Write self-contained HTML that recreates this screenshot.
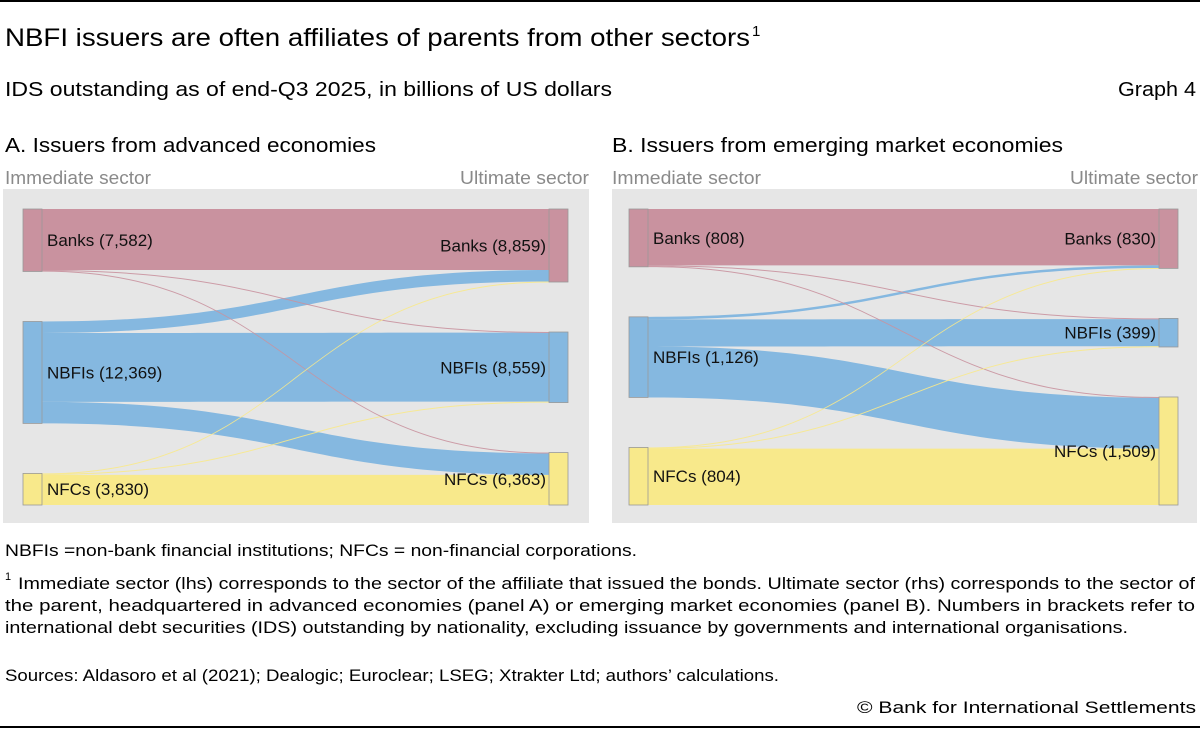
<!DOCTYPE html>
<html><head><meta charset="utf-8"><style>
body{margin:0;background:#fff;}
svg{display:block;font-family:"Liberation Sans",sans-serif;}
</style></head><body>
<svg id="chart" width="1200" height="729" viewBox="0 0 1200 729">
<line x1="0" y1="1" x2="1200" y2="1" stroke="#000" stroke-width="2"/>
<text x="5" y="46" font-size="25" fill="#000" textLength="745" lengthAdjust="spacingAndGlyphs">NBFI issuers are often affiliates of parents from other sectors</text>
<text x="752" y="36" font-size="15">1</text>
<text x="5" y="96" font-size="20" textLength="607" lengthAdjust="spacingAndGlyphs">IDS outstanding as of end-Q3 2025, in billions of US dollars</text>
<text x="1118" y="96" font-size="20" textLength="78" lengthAdjust="spacingAndGlyphs">Graph 4</text>
<text x="5" y="152" font-size="20" textLength="371" lengthAdjust="spacingAndGlyphs">A. Issuers from advanced economies</text>
<text x="612" y="152" font-size="20" textLength="451" lengthAdjust="spacingAndGlyphs">B. Issuers from emerging market economies</text>
<text x="5" y="184" font-size="18" fill="#8a8a8a" textLength="146" lengthAdjust="spacingAndGlyphs">Immediate sector</text>
<text x="460" y="184" font-size="18" fill="#8a8a8a" textLength="129" lengthAdjust="spacingAndGlyphs">Ultimate sector</text>
<text x="612" y="184" font-size="18" fill="#8a8a8a" textLength="149" lengthAdjust="spacingAndGlyphs">Immediate sector</text>
<text x="1070" y="184" font-size="18" fill="#8a8a8a" textLength="128" lengthAdjust="spacingAndGlyphs">Ultimate sector</text>
<rect x="3" y="189" width="586" height="334" fill="#e6e6e6"/>
<rect x="612" y="189" width="585" height="334" fill="#e6e6e6"/>
<g id="pa"></g><g id="pb"></g>
<text x="5" y="556" font-size="17" textLength="632" lengthAdjust="spacingAndGlyphs">NBFIs =non-bank financial institutions; NFCs = non-financial corporations.</text>
<text x="5" y="580" font-size="11">1</text>
<text x="18" y="589" font-size="17" textLength="1177" lengthAdjust="spacingAndGlyphs">Immediate sector (lhs) corresponds to the sector of the affiliate that issued the bonds. Ultimate sector (rhs) corresponds to the sector of</text>
<text x="5" y="611" font-size="17" textLength="1190" lengthAdjust="spacingAndGlyphs">the parent, headquartered in advanced economies (panel A) or emerging market economies (panel B). Numbers in brackets refer to</text>
<text x="5" y="633" font-size="17" textLength="1123" lengthAdjust="spacingAndGlyphs">international debt securities (IDS) outstanding by nationality, excluding issuance by governments and international organisations.</text>
<text x="5" y="681" font-size="17" textLength="774" lengthAdjust="spacingAndGlyphs">Sources: Aldasoro et al (2021); Dealogic; Euroclear; LSEG; Xtrakter Ltd; authors’ calculations.</text>
<text x="857" y="713" font-size="17" textLength="339" lengthAdjust="spacingAndGlyphs">© Bank for International Settlements</text>
<line x1="0" y1="727" x2="1200" y2="727" stroke="#000" stroke-width="2"/>
</svg>
<script>
const sectors = ["Banks","NBFIs","NFCs"];
const colors = ["#c9929f","#85b8e0","#f8e98b"];
const nodeColors = ["#c9929f","#85b8e0","#f8e98b"];
// flows[source][target]
const flowsA = [[7402,80,100],[1397,8359,2613],[60,120,3650]];
const flowsB = [[788,10,10],[36,379,711],[6,10,788]];
const leftTotalsA = [7582,12369,3830];
const rightTotalsA = [8859,8559,6363];
const leftTotalsB = [808,1126,804];
const rightTotalsB = [830,399,1509];
const NS="http://www.w3.org/2000/svg";
function mk(tag,attrs,parent){const e=document.createElementNS(NS,tag);for(const k in attrs)e.setAttribute(k,attrs[k]);parent.appendChild(e);return e;}
function fmt(v){return v.toLocaleString("en-US");}
function drawPanel(g,flows,lt,rt,x0,x1,nw,prefix){
  const top=209,bottom=505,gap=50;
  const total=lt.reduce((a,b)=>a+b,0);
  const k=(bottom-top-2*gap)/total;
  const ly=[],ry=[];let y=top;
  lt.forEach(v=>{ly.push(y);y+=v*k+gap;});
  const rtot=rt.reduce((a,b)=>a+b,0);const k2=(bottom-top-2*gap)/rtot;
  y=top;rt.forEach(v=>{ry.push(y);y+=v*k2+gap;});
  const lo=ly.slice();
  const xa=x0+nw,xb=x1;
  const paths=[];
  for(let s=0;s<3;s++)for(let t=0;t<3;t++){
    const v=flows[s][t];const h=v*k;
    paths.push({s,t,y0:lo[s],y1:0,h});
    lo[s]+=h;
  }
  const ro2=ry.slice();
  for(let t=0;t<3;t++)for(let s=0;s<3;s++){const p=paths.find(q=>q.s===s&&q.t===t);p.y1=ro2[t];ro2[t]+=p.h;}
  paths.sort((a,b)=>b.h-a.h);
  paths.forEach(p=>{
    const xm=(xa+xb)/2;const h=Math.max(p.h,1);
    const d=`M${xa},${p.y0}C${xm},${p.y0} ${xm},${p.y1} ${xb},${p.y1}L${xb},${p.y1+h}C${xm},${p.y1+h} ${xm},${p.y0+h} ${xa},${p.y0+h}Z`;
    const e=mk("path",{d,fill:colors[p.s],"fill-opacity":p.h<2?0.9:1},g);
    
    
  });
  for(let i=0;i<3;i++){
    const r=mk("rect",{x:x0,y:ly[i],width:nw,height:lt[i]*k,fill:nodeColors[i],stroke:"#999","stroke-width":0.8},g);
    
    
    const r2=mk("rect",{x:x1,y:ry[i],width:nw,height:rt[i]*k2,fill:nodeColors[i],stroke:"#999","stroke-width":0.8},g);
    
    
    const t1=mk("text",{x:x0+nw+5,y:ly[i]+lt[i]*k/2+6,"font-size":17,fill:"#111"},g);
    t1.textContent=sectors[i]+" ("+fmt(lt[i])+")";
    
    
    const t2=mk("text",{x:x1-3,y:ry[i]+rt[i]*k2/2+6,"font-size":17,fill:"#111","text-anchor":"end"},g);
    t2.textContent=sectors[i]+" ("+fmt(rt[i])+")";
    
    
  }
}
drawPanel(document.getElementById("pa"),flowsA,leftTotalsA,rightTotalsA,23,549,19,"panel-a");
drawPanel(document.getElementById("pb"),flowsB,leftTotalsB,rightTotalsB,629,1159,19,"panel-b");
</script>
</body></html>
